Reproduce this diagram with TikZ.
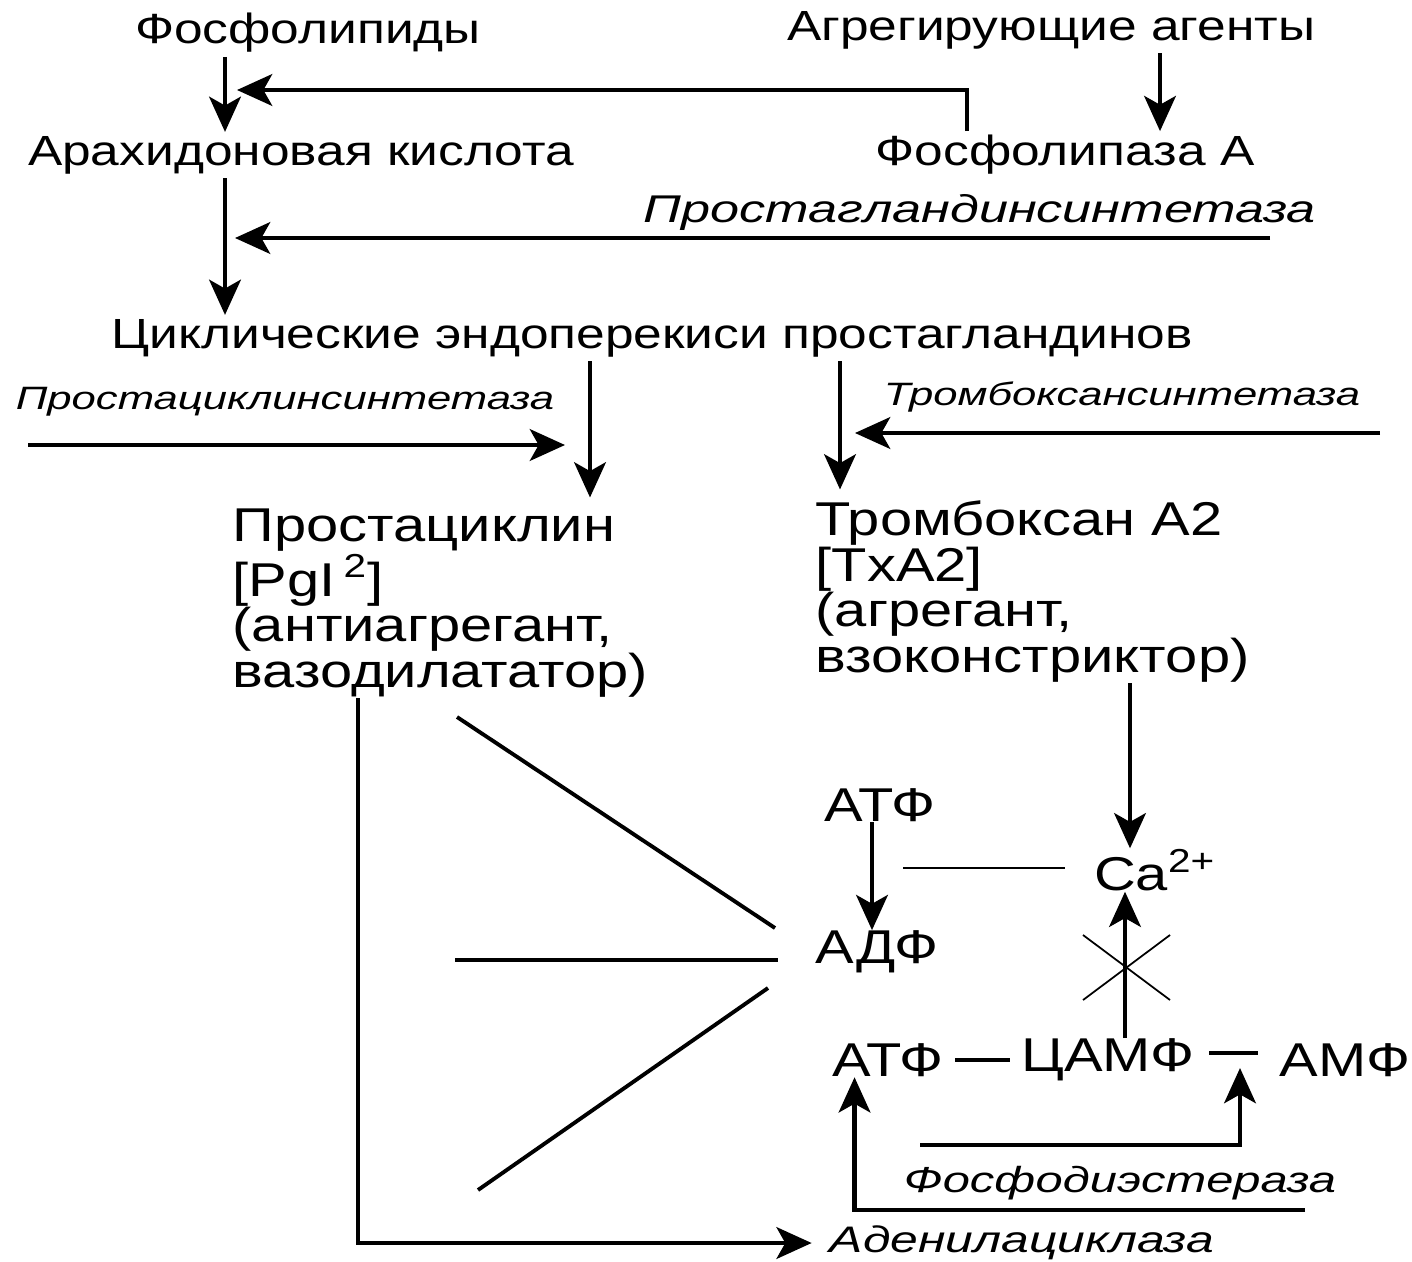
\documentclass[tikz,border=0pt]{standalone}
\usepackage{fontspec}
\setmainfont{Liberation Sans}
\newfontfamily\widefont{Liberation Sans}[FakeStretch=1.22]
\newfontfamily\enzfont{Liberation Sans}[FakeStretch=1.35]
\usetikzlibrary{arrows.meta}

\begin{document}
\begin{tikzpicture}[
    lbl/.style={inner sep=1pt, font=\widefont\fontsize{12}{12}\selectfont},
    blk/.style={inner sep=0pt, align=left, font=\widefont\fontsize{13.5}{13}\selectfont},
    enz/.style={inner sep=1pt, font=\enzfont\itshape\fontsize{11}{11}\selectfont},
    enzsmall/.style={enz, font=\enzfont\itshape\fontsize{9.2}{9.2}\selectfont},
    arr/.style={line width=1.3pt, -{Stealth[length=10pt,width=9pt,inset=2.5pt]}},
    ln/.style={line width=1.1pt},
    thinln/.style={line width=0.5pt}
  ]
			\useasboundingbox (0,0) rectangle (14.12,-12.61);

			\node[lbl] (phl) at (3.08,-0.33) {Фосфолипиды};
			\node[lbl] (agr) at (10.51,-0.30) {Агрегирующие агенты};
			\node[lbl] (ara) at (3.01,-1.55) {Арахидоновая кислота};
			\node[lbl] (pla) at (10.65,-1.55) {Фосфолипаза А};
			\node[enz] (pgs) at (9.80,-2.12) {Простагландинсинтетаза};
			\node[lbl] (cyc) at (6.52,-3.38) {Циклические эндоперекиси простагландинов};
			\node[enzsmall] (pcs) at (2.85,-4.02) {Простациклинсинтетаза};
			\node[enzsmall] (txs) at (11.22,-3.97) {Тромбоксансинтетаза};

			\node[blk, anchor=north west] (pgi) at (2.32,-5.08) {Простациклин\\{}[PgI\,\textsuperscript{2}]\\(антиагрегант,\\вазодилататор)};
			\node[blk, anchor=north west] (txa) at (8.15,-5.00) {Тромбоксан А2\\{}[TxA2]\\(агрегант,\\взоконстриктор)};

			\node[blk] (atp1) at (8.80,-8.05) {АТФ};
			\node[blk] (adp) at (8.77,-9.52) {АДФ};
			\node[blk] (ca) at (11.55,-8.70) {Ca\textsuperscript{2+}};
			\node[blk] (atp2) at (8.88,-10.60) {АТФ};
			\node[blk] (camp) at (11.08,-10.60) {ЦАМФ};
			\node[blk] (amp) at (13.45,-10.60) {АМФ};
			\node[enz, font=\enzfont\itshape\fontsize{10.3}{10.3}\selectfont] (pde) at (11.20,-11.83) {Фосфодиэстераза};
			\node[enz, font=\enzfont\itshape\fontsize{10.5}{10.5}\selectfont] (adc) at (10.22,-12.43) {Аденилациклаза};

			% columns and free ends
			\coordinate (c1) at (2.25,0);
			\coordinate (c3) at (11.60,0);
			\coordinate (c4) at (5.90,0);
			\coordinate (c5) at (3.58,0);
			\coordinate (c6) at (11.25,0);
			\coordinate (c7) at (8.40,0);
			\coordinate (c8) at (8.72,0);
			\coordinate (c9) at (11.30,0);
			\coordinate (k1) at (9.67,-0.90);
			\coordinate (t1) at (2.37,-0.90);
			\coordinate (s2) at (12.70,-2.38);
			\coordinate (t2) at (2.35,-2.38);
			\coordinate (s3) at (0.28,-4.45);
			\coordinate (t3) at (5.65,-4.45);
			\coordinate (s4) at (13.80,-4.33);
			\coordinate (t4) at (8.55,-4.33);
			\coordinate (s5) at (9.03,-8.68);
			\coordinate (s6) at (9.20,-11.45);
			\coordinate (t6) at (12.40,-10.68);
			\coordinate (s7) at (13.05,-12.10);

			\draw[arr] (phl.south -| c1) -- (ara.north -| c1);
			\draw[arr] (pla.north -| k1) -- (k1) -- (t1);
			\draw[arr] (agr.south -| c3) -- (pla.north -| c3);
			\draw[arr] (s2) -- (t2);
			\draw[arr] (ara.south -| c1) -- (cyc.north -| c1);

			\draw[arr] (cyc.south -| c4) -- ([yshift=3pt]pgi.north -| c4);
			\draw[arr] (cyc.south -| c7) -- ([yshift=3pt]txa.north -| c7);
			\draw[arr] (s3) -- (t3);
			\draw[arr] (s4) -- (t4);

			\draw[arr] (pgi.south -| c5) |- ([xshift=-4pt]adc.west);
			\draw[arr] (txa.south -| c9) -- (ca.north -| c9);

			\draw[ln] (4.57,-7.17) -- (7.75,-9.28);
			\draw[ln] (4.55,-9.60) -- (7.78,-9.60);
			\draw[ln] (4.78,-11.90) -- (7.68,-9.88);

			\draw[arr] (atp1.south -| c8) -- (adp.north -| c8);
			\draw[ln, line width=0.8pt, shorten >=8pt] (s5) -- (ca.west |- s5);
			\draw[arr] (camp.north -| c6) -- (ca.south -| c6);
			\draw[thinln] (10.83,-9.35) -- (11.70,-10.00);
			\draw[thinln] (11.70,-9.35) -- (10.83,-10.00);

			\draw[ln, shorten <=3pt, shorten >=3pt] (atp2) -- (camp);
			\draw[ln, shorten <=4pt, shorten >=6pt] ([yshift=2pt]camp.east) -- ([yshift=2pt]amp.west);
			\draw[arr] (s6) -| (t6);
			\draw[arr] (s7) -| ([xshift=0.23cm]atp2.south west);
\end{tikzpicture}
\end{document}
